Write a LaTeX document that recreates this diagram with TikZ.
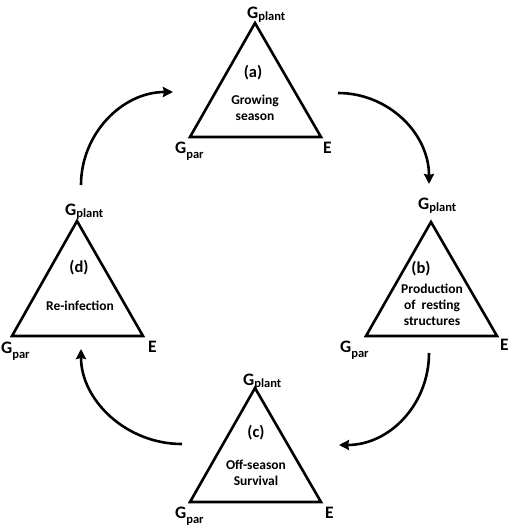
\documentclass[tikz,border=0pt]{standalone}
\usepackage{fontspec}
\setmainfont{Carlito}
\usetikzlibrary{arrows.meta}
\newcommand{\Gsub}[2]{G{\fontsize{12.5}{12.5}\selectfont\raisebox{-#2pt}{#1}}}
\tikzset{
  tri/.style={line width=2.6pt, line join=miter},
  cyc/.style={line width=2.6pt, -{Stealth[length=10pt,width=10pt,inset=1pt]}},
  corner/.style={anchor=base west, inner sep=0pt, font=\fontsize{17.5}{17.5}\selectfont\bfseries},
  tag/.style={inner sep=0pt, font=\fontsize{16.5}{16.5}\selectfont\bfseries},
  body/.style={inner sep=0pt, align=center, font=\fontsize{13.5}{16}\selectfont\bfseries},
}
\begin{document}
\begin{tikzpicture}[x=1pt,y=-1pt]
\useasboundingbox (0,0) rectangle (512,525);
% triangle corners
\coordinate (aT) at (255,23);  \coordinate (aL) at (190,137); \coordinate (aR) at (321,137);
\coordinate (bT) at (431,222); \coordinate (bL) at (366,336); \coordinate (bR) at (497,336);
\coordinate (cT) at (255,388); \coordinate (cL) at (190,502); \coordinate (cR) at (321,502);
\coordinate (dT) at (77,221);  \coordinate (dL) at (12,336);  \coordinate (dR) at (143,336);
\draw[tri] (aT) -- (aL) -- (aR) -- cycle;
\draw[tri] (bT) -- (bL) -- (bR) -- cycle;
\draw[tri] (cT) -- (cL) -- (cR) -- cycle;
\draw[tri] (dT) -- (dL) -- (dR) -- cycle;
% corner labels
\node[corner] (aGp) at (247,18)  {\Gsub{plant}{2}};
\node[corner] (aGr) at (175,153) {\Gsub{par}{5}};
\node[corner] (aE)  at (323,153) {E};
\node[corner] (bGp) at (418,209) {\Gsub{plant}{2}};
\node[corner] (bGr) at (340,352) {\Gsub{par}{5}};
\node[corner] (bE)  at (500,350) {E};
\node[corner] (cGp) at (243,385) {\Gsub{plant}{2}};
\node[corner] (cGr) at (175,518) {\Gsub{par}{5}};
\node[corner] (cE)  at (325,518) {E};
\node[corner] (dGp) at (65,215)  {\Gsub{plant}{2}};
\node[corner] (dGr) at (1,353)   {\Gsub{par}{5}};
\node[corner] (dE)  at (148,352) {E};
% inner texts
\node[tag] (aTag) at (253,73) {(a)};
\node[body] (aTxt) at (255,108) {Growing\\season};
\node[tag] (bTag) at (421,269) {(b)};
\node[body] (bTxt) at (432,305) {Production\\of\ \ resting\\structures};
\node[tag] (cTag) at (256,433) {(c)};
\node[body] (cTxt) at (256,473) {Off-season\\Survival};
\node[tag] (dTag) at (79,268) {(d)};
\node[body] (dTxt) at (80,306) {Re-infection};
% cycle arrows
\coordinate (s1) at (81,185);  \coordinate (e1) at (173,92);
\coordinate (s2) at (338,93);  \coordinate (e2) at (429,184);
\coordinate (s3) at (429,353); \coordinate (e3) at (339,445);
\coordinate (s4) at (182,444); \coordinate (e4) at (81,349);
\draw[cyc] (s1) .. controls (81,134) and (122,92) .. (e1);
\draw[cyc] (s2) .. controls (388,93) and (429,133) .. (e2);
\draw[cyc] (s3) .. controls (429,404) and (390,445) .. (e3);
\draw[cyc] (s4) .. controls (126,444) and (81,400) .. (e4);
\end{tikzpicture}
\end{document}
